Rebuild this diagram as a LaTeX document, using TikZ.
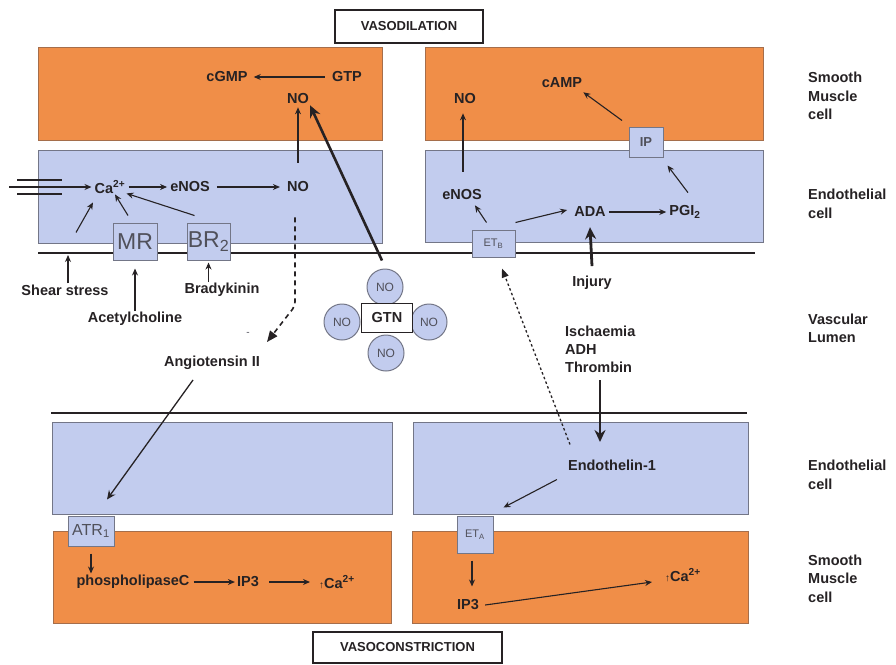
\documentclass[tikz,border=0pt]{standalone}
\usepackage{fontspec}
\setmainfont{Liberation Sans}
\usetikzlibrary{arrows.meta}
\definecolor{smc}{RGB}{240,142,72}
\definecolor{smcb}{RGB}{165,110,75}
\definecolor{endo}{RGB}{194,204,238}
\definecolor{endob}{RGB}{115,118,135}
\definecolor{ink}{RGB}{38,34,36}
\definecolor{recink}{RGB}{80,80,90}
\begin{document}
\begin{tikzpicture}[x=1pt,y=-1pt,
  lbl/.style={font=\fontsize{14.5}{16}\selectfont\bfseries, text=ink, inner sep=1pt},
  side/.style={anchor=west, align=left, font=\fontsize{14.5}{18.5}\selectfont\bfseries, text=ink, inner sep=0pt},
  arr/.style={draw=ink, line width=1.1pt, -{Stealth[length=7pt,width=6pt]}},
  bigarr/.style={draw=ink, line width=2.8pt, -{Stealth[length=12pt,width=11pt]}},
  smcbox/.style={fill=smc, draw=smcb, line width=1pt},
  endobox/.style={fill=endo, draw=endob, line width=1pt},
  rec/.style={endobox, inner sep=0pt, text=recink},
  membrane/.style={draw=ink, line width=2.6pt},
  titlebox/.style={draw=ink, line width=2pt, fill=white, font=\fontsize{13}{15}\selectfont\bfseries, text=ink},
  nocirc/.style={circle, endobox, minimum size=36pt, inner sep=0pt, font=\fontsize{12}{14}\selectfont, text=recink},
  gtnbox/.style={draw=ink, line width=0.8pt, fill=white, minimum width=51pt, minimum height=29pt, inner sep=0pt, font=\fontsize{14.5}{16}\selectfont\bfseries, text=ink}
]
\useasboundingbox (0,0) rectangle (896,664);
\fill[white] (0,0) rectangle (896,664);

% cells
\draw[smcbox] (38,47) rectangle (382,140);
\draw[endobox] (38,150) rectangle (382,243);
\draw[smcbox] (425,47) rectangle (763,140);
\draw[endobox] (425,150) rectangle (763,242);
\draw[endobox] (52,422) rectangle (392,514);
\draw[endobox] (413,422) rectangle (748,514);
\draw[smcbox] (53,531) rectangle (391,623);
\draw[smcbox] (412,531) rectangle (748,623);

% membranes
\draw[membrane] (38,253) -- (755,253);
\draw[membrane] (51,413) -- (747,413);

% titles
\node[titlebox, minimum width=148pt, minimum height=33pt] (vd) at (409,26.5) {VASODILATION};
\node[titlebox, minimum width=189pt, minimum height=31pt] (vc) at (407.5,647.5) {VASOCONSTRICTION};

% receptors
\node[rec, minimum width=44pt, minimum height=37pt, font=\fontsize{23}{25}\selectfont] (MR) at (135,241.5) {MR};
\node[rec, minimum width=43pt, minimum height=37pt, font=\fontsize{23}{25}\selectfont] (BR) at (208.5,241.5) {BR\textsubscript{2}};
\node[rec, minimum width=34pt, minimum height=30pt, font=\fontsize{13}{15}\selectfont\bfseries] (IP) at (646,142) {IP};
\node[rec, minimum width=43pt, minimum height=27pt, font=\fontsize{11}{13}\selectfont] (ETB) at (493.5,243.5) {ET\textsubscript{B}};
\node[rec, minimum width=46pt, minimum height=30pt, font=\fontsize{16}{18}\selectfont] (ATR) at (91,531) {ATR\textsubscript{1}};
\node[rec, minimum width=36pt, minimum height=37pt, font=\fontsize{11}{13}\selectfont] (ETA) at (475,534.5) {ET\textsubscript{A}};

% ion channel
\draw[draw=ink, line width=2.6pt] (17,180) -- (62,180);
\draw[draw=ink, line width=2.6pt] (17,194) -- (62,194);
\coordinate (chan) at (9,187);

% top-left texts
\node[lbl] (cGMP) at (227,77) {cGMP};
\node[lbl] (GTP) at (347,77) {GTP};
\node[lbl] (NO1) at (298,99) {NO};
\node[lbl] (Ca) at (110,187) {Ca\textsuperscript{2+}};
\node[lbl] (eNOS1) at (190,187) {eNOS};
\node[lbl] (NO2) at (298,187) {NO};

% top-right texts
\node[lbl] (NOr) at (465,99) {NO};
\node[lbl] (cAMP) at (562,83) {cAMP};
\node[lbl] (eNOSr) at (462,195) {eNOS};
\node[lbl] (ADA) at (590,212) {ADA};
\node[lbl] (PGI) at (685,212) {PGI\textsubscript{2}};

% lumen texts
\node[lbl] (Shear) at (65,290) {Shear stress};
\node[lbl] (Acetyl) at (135,319) {Acetylcholine};
\node[lbl] (Brady) at (222,290) {Bradykinin};
\node[lbl] (Angio) at (212,363) {Angiotensin II};
\node[font=\fontsize{10}{10}\selectfont, text=recink, inner sep=0pt] (minus) at (248,334) {-};
\node[lbl] (Injury) at (592,283) {Injury};
\node[side, anchor=north west, font=\fontsize{14.5}{18}\selectfont\bfseries] (Isch) at (565,326) {Ischaemia\\ADH\\Thrombin};

% GTN
\node[nocirc] (NOt) at (385,287) {NO};
\node[nocirc] (NOl) at (342,322) {NO};
\node[nocirc] (NOrr) at (429,322) {NO};
\node[nocirc] (NOb) at (386,353) {NO};
\node[gtnbox] (GTN) at (387,318) {GTN};

% bottom texts
\node[lbl] (Endo) at (612,465) {Endothelin-1};
\node[lbl] (PLC) at (133,582) {phospholipaseC};
\node[lbl] (IP3) at (248,582) {IP3};
\node[lbl] (CaL) at (337,582) {\fontsize{10}{10}\selectfont↑\fontsize{14.5}{16}\selectfont Ca\textsuperscript{2+}};
\node[lbl] (IP3r) at (468,605) {IP3};
\node[lbl] (CaR) at (683,575) {\fontsize{10}{10}\selectfont↑\fontsize{14.5}{16}\selectfont Ca\textsuperscript{2+}};

% side labels
\node[side] (sm1) at (808,96) {Smooth\\Muscle\\cell};
\node[side] (en1) at (808,204) {Endothelial\\cell};
\node[side] (lum) at (808,328.5) {Vascular\\Lumen};
\node[side] (en2) at (808,475) {Endothelial\\cell};
\node[side] (sm2) at (808,578.5) {Smooth\\Muscle\\cell};

% ---- connectors, top left
\draw[arr] ([xshift=-6pt]GTP.west) -- ([xshift=5pt]cGMP.east);
\draw[arr] ([yshift=18pt]NO2.north) -- ([yshift=-2pt]NO1.south);
\draw[arr] ([xshift=2pt]Ca.east) -- ([xshift=-2pt]eNOS1.west);
\draw[arr] ([xshift=6pt]eNOS1.east) -- ([xshift=-6pt]NO2.west);
\draw[arr] (chan) -- ([xshift=-2pt]Ca.west);
\draw[arr] ([xshift=11pt,yshift=51pt]Shear.north) -- ([xshift=-17pt,yshift=-8pt]Ca.south);
\draw[arr] ([xshift=-7pt,yshift=7pt]MR.north) -- ([xshift=5pt]Ca.south);
\draw[arr] ([xshift=-14pt,yshift=7pt]BR.north) -- ([yshift=1pt]Ca.south east);
\draw[arr] ([xshift=3pt]Shear.north) -- ([xshift=3pt]Shear.north |- 0,255);
\draw[arr] (Acetyl.north) -- ([yshift=-8pt]MR.south);
\draw[arr] (Brady.north -| BR.south) -- ([yshift=-2pt]BR.south);
\coordinate (angtip) at (267,342);
\draw[draw=ink, line width=1.6pt, dash pattern=on 5pt off 4pt, rounded corners=4pt, -{Triangle[length=11pt,width=9pt]}]
  ([xshift=-3pt,yshift=-24pt]NO2.south) -- ([xshift=-3pt]NO2.south |- 0,306) -- (angtip);
\draw[bigarr, line width=2.6pt] ([xshift=-3pt,yshift=8pt]NOt.north) -- (NO1.south east);

% ---- top right
\draw[arr] ([xshift=1pt,yshift=17pt]eNOSr.north) -- ([xshift=-2pt,yshift=-8pt]NOr.south);
\draw[arr] ([xshift=-24pt,yshift=6pt]IP.north) -- ([yshift=-3pt]cAMP.south east);
\draw[arr] ([xshift=3pt,yshift=12pt]PGI.north) -- ([xshift=4pt,yshift=-8pt]IP.south east);
\draw[arr] ([xshift=2pt]ADA.east) -- ([xshift=-2pt]PGI.west);
\draw[arr] ([xshift=-7pt,yshift=7pt]ETB.north) -- ([xshift=-8pt,yshift=-4pt]eNOSr.south east);
\draw[arr] ([yshift=7pt]ETB.north east) -- ([xshift=-6pt,yshift=2pt]ADA.west);
\draw[bigarr] ([yshift=9pt]Injury.north) -- ([yshift=-9pt]ADA.south);

% ---- bottom
\coordinate (ischend) at (600,442);
\draw[bigarr] ([yshift=-7pt]ischend |- Isch.south) -- (ischend);
\draw[draw=ink, line width=1.3pt, dash pattern=on 2.5pt off 2.5pt, -{Triangle[length=9pt,width=7pt]}]
  ([xshift=-42pt,yshift=14pt]Endo.north) -- ([xshift=8.5pt,yshift=-11pt]ETB.south);
\draw[arr] ([xshift=-10pt,yshift=-8pt]Endo.south west) -- ([xshift=10pt,yshift=8pt]ETA.north east);
\draw[draw=ink, line width=1.3pt, -{Stealth[length=9pt,width=8pt]}] ([xshift=-19pt,yshift=-9pt]Angio.south) -- ([xshift=16pt,yshift=16pt]ATR.north);
\draw[arr] ([yshift=-7pt]ATR.south) -- ([yshift=-27pt]ATR.south);
\draw[arr] ([xshift=3pt]PLC.east) -- ([xshift=-1pt]IP3.west);
\draw[arr] ([xshift=9pt]IP3.east) -- ([xshift=-8pt]CaL.west);
\draw[arr] ([xshift=-3pt,yshift=-7pt]ETA.south) -- ([xshift=-3pt,yshift=-33pt]ETA.south);
\draw[arr] ([xshift=5pt]IP3r.east) -- ([xshift=-12pt,yshift=-7pt]CaR.west);
\end{tikzpicture}
\end{document}
